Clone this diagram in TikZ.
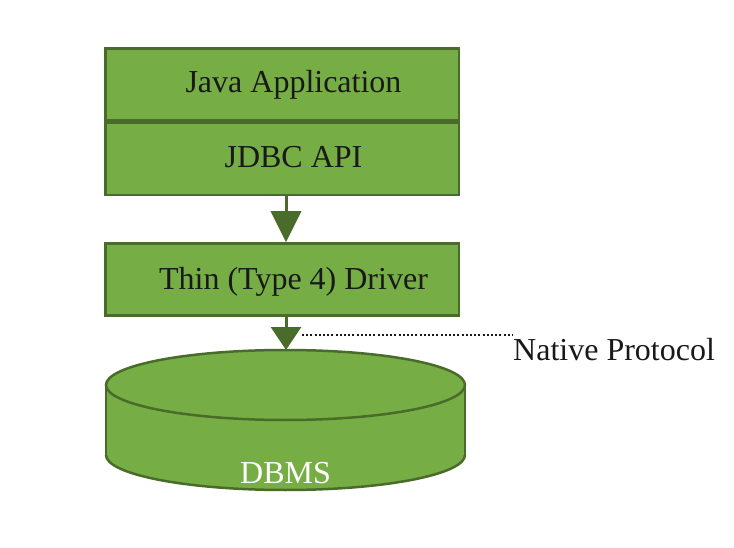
\documentclass[tikz,border=0pt]{standalone}
\usepackage{fontspec}
\setmainfont{Liberation Serif}
\usetikzlibrary{arrows.meta,positioning}
\definecolor{leaf}{RGB}{119,173,69}
\definecolor{moss}{RGB}{74,108,42}
\definecolor{ink}{RGB}{25,25,25}
\tikzset{
  layer/.style={draw=moss,fill=leaf,line width=2.5pt,minimum width=353.5pt,minimum height=72pt,inner sep=0pt},
  laytext/.style={font=\fontsize{32}{38}\selectfont,text=ink,anchor=base,inner sep=0pt},
  flow/.style={draw=moss,line width=3pt,-{Triangle[width=30pt,length=#1]}},
}

\begin{document}
\begin{tikzpicture}[x=1pt,y=-1pt]
\useasboundingbox (0,0) rectangle (734,548);
% stacked layers
\node[layer] (java) at (282,84.5) {};
\node[layer,below=0pt of java] (jdbc) {};
\node[layer,below=46pt of jdbc] (driver) {};
\node[laytext] (javatxt) at ([xshift=11.5pt,yshift=-8.5pt]java.center) {Java Application};
\node[laytext] (jdbctxt) at ([xshift=11.5pt,yshift=-9pt]jdbc.center) {JDBC API};
\node[laytext] (drivertxt) at ([xshift=11.5pt,yshift=-10pt]driver.center) {Thin (Type 4) Driver};
% database
\coordinate (dbtop) at (286,350);
\fill[leaf] (106,385) rectangle (465,455);
\fill[leaf] (285.5,455) ellipse [x radius=179.5,y radius=35];
\begin{scope}
\clip (100,455) rectangle (470,496);
\draw[moss,line width=2.5pt] (285.5,455) ellipse [x radius=179.5,y radius=35];
\end{scope}
\draw[moss,fill=leaf,line width=2.5pt] (285.5,385) ellipse [x radius=179.5,y radius=35];
\draw[moss,line width=2.5pt] (106,385) -- (106,455) (465,385) -- (465,455);
\node[laytext,text=white] (dbms) at (285.5,483) {DBMS};
% arrows
\draw[flow=31pt] ([xshift=4pt]jdbc.south) -- ([xshift=4pt]driver.north);
\draw[flow=23pt] ([xshift=4pt]driver.south) -- (dbtop);
% protocol note
\coordinate (tipedge) at (302,335);
\node[laytext,anchor=base west] (native) at (513,360) {Native Protocol};
\draw[ink,line width=2pt,dash pattern=on 2pt off 2.2pt] (tipedge) -- (tipedge -| native.west);
\end{tikzpicture}
\end{document}
